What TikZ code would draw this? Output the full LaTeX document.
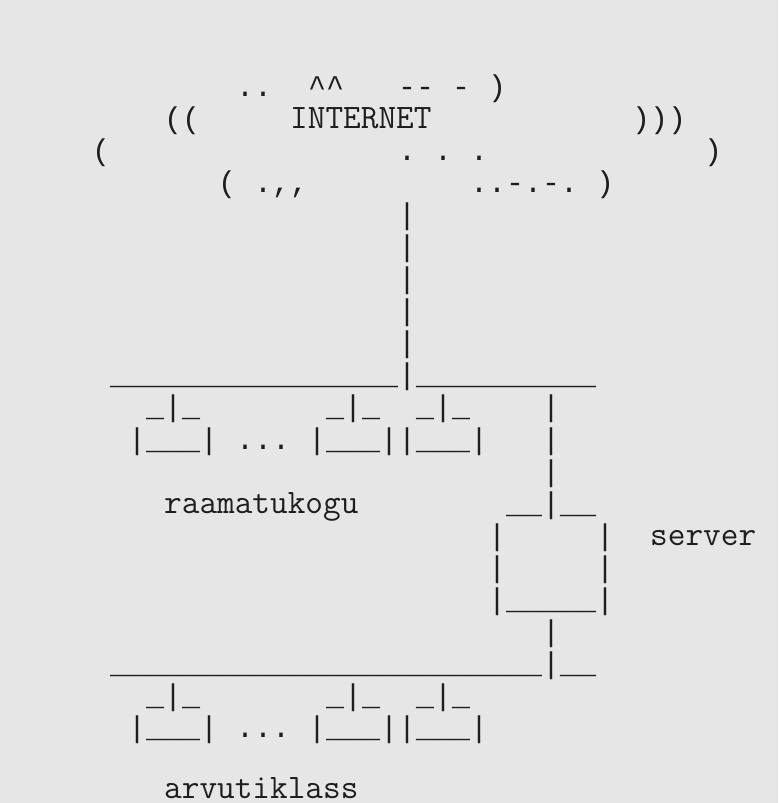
\documentclass[tikz,border=0pt]{standalone}
\usepackage{fontspec}
\newfontfamily\ascii{Liberation Mono}
\definecolor{bg}{RGB}{230,230,230}
\definecolor{ink}{RGB}{30,30,30}
\newcommand\unders[1]{\foreach\k in {1,...,#1}{\_}}

\begin{document}
\begin{tikzpicture}[x=18pt,y=-32pt,
        a/.style={anchor=base west, inner sep=0pt, text=ink,
                  font=\fontsize{30}{32}\selectfont\ascii},
        w/.style={a, font=\fontsize{34.29}{32}\selectfont\ttfamily}]
    \fill[bg] (-0.111,-2.031) rectangle (43.111,23.0625);
    % cloud
    \node[a] (ctop) at (13,1)
        {..~~\textasciicircum\textasciicircum~~~-\kern0pt-~-~)};
    \node[a] (cl1) at (9,2) {((};
    \node[w] (internet) at (16,2) {INTERNET};
    \node[a] (cr1) at (35,2) {)))};
    \node[a] (cl2) at (5,3) {(};
    \node[a] (cdots) at (22,3) {.~.~.};
    \node[a] (cr2) at (39,3) {)};
    \node[a] (cl3) at (12,4) {(~.,\kern0pt,};
    \node[a] (cr3) at (26,4) {..-.-.~)};
    \foreach \r in {5,...,9}
        \node[a] (up\r) at (22,\r) {\textbar};
    % top network
    \node[a] (bus1) at (6,10) {\unders{16}\textbar\unders{10}};
    \node[a] (s1) at (30,11) {\textbar};
    \node[a] (s2) at (30,12) {\textbar};
    \node[a] (s3) at (30,13) {\textbar};
    \node[w] (raamatukogu) at (9,14) {raamatukogu};
    % server
    \node[a] (srvtop) at (28,14) {\_\_\textbar\_\_};
    \node[a] (srv1) at (27,15) {\textbar~~~~~\textbar};
    \node[w] (server) at (36,15) {server};
    \node[a] (srv2) at (27,16) {\textbar~~~~~\textbar};
    \node[a] (srvbot) at (27,17) {\textbar\unders{5}\textbar};
    \node[a] (s4) at (30,18) {\textbar};
    % bottom network
    \node[a] (bus2) at (6,19) {\unders{24}\textbar\_\_};
    \node[w] (arvutiklass) at (9,22.93) {arvutiklass};
    % workstations
    \foreach \r/\n in {11/a,20/b} {
        \node[a] (\n top1) at (8,\r) {\_\textbar\_};
        \node[a] (\n top2) at (18,\r) {\_\textbar\_};
        \node[a] (\n top3) at (23,\r) {\_\textbar\_};
        \node[a] (\n pc1) at (7,\r+1) {\textbar\_\_\_\textbar};
        \node[a] (\n dots) at (13,\r+1) {...};
        \node[a] (\n pc2) at (17,\r+1)
            {\textbar\_\_\_\textbar\textbar\_\_\_\textbar};
    }
\end{tikzpicture}
\end{document}
